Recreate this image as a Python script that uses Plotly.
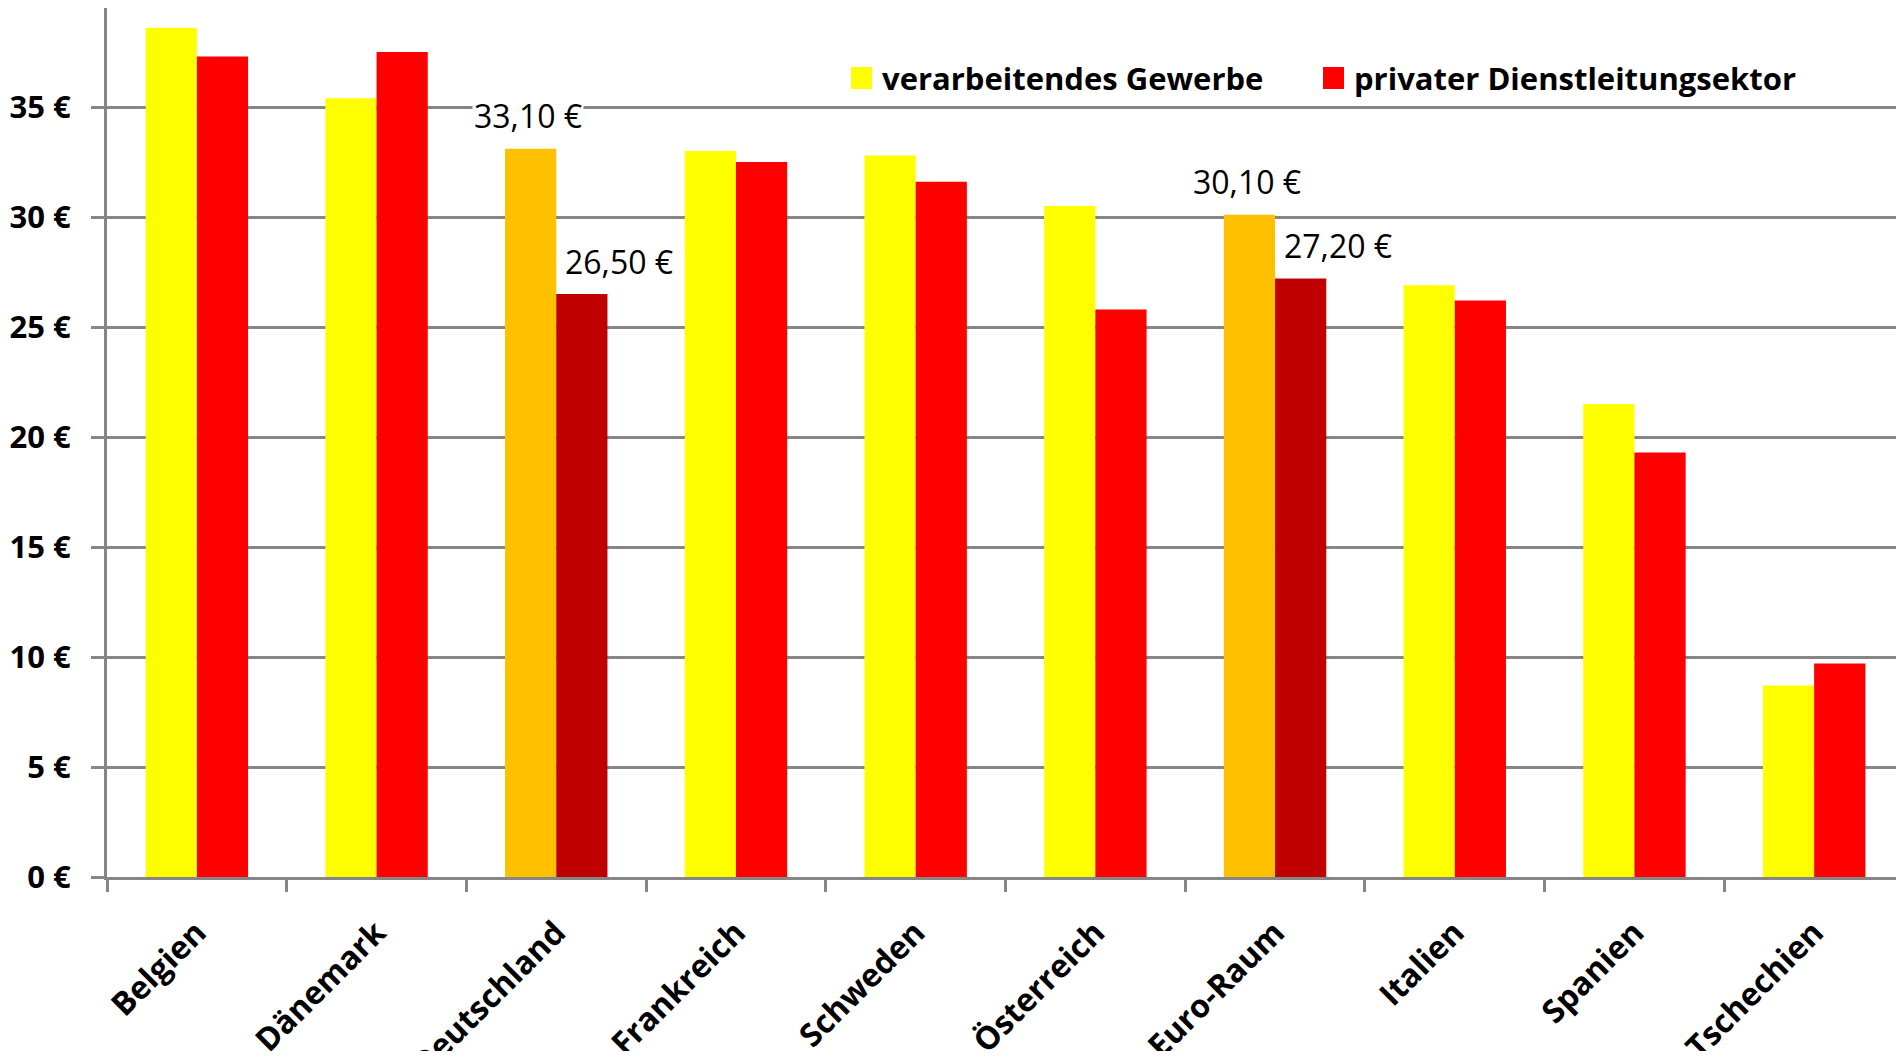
import plotly.graph_objects as go

# data
countries = ["Belgien", "Dänemark", "Deutschland", "Frankreich", "Schweden",
             "Österreich", "Euro-Raum", "Italien", "Spanien", "Tschechien"]
gewerbe = [38.6, 35.4, 33.1, 33.0, 32.8, 30.5, 30.1, 26.9, 21.5, 8.7]
dienst = [37.3, 37.5, 26.5, 32.5, 31.6, 25.8, 27.2, 26.2, 19.3, 9.7]
highlight = ["Deutschland", "Euro-Raum"]
series_names = ["verarbeitendes Gewerbe", "privater Dienstleitungsektor"]
y_ticks = [0, 5, 10, 15, 20, 25, 30, 35]
y_ticktext = ["0 €", "5 €", "10 €", "15 €", "20 €", "25 €", "30 €", "35 €"]

# the page body has an 8px margin, so the figure is sized to fit inside it
OFF = 8
W, H = 1904 - 2 * OFF, 1059 - 2 * OFF
L, T, B = 107 - OFF, 0, 1059 - 2 * OFF - (877 - OFF)
PW, PH = W - L, H - T - B
FONT = "Open Sans"
GRID = "#868686"
CAT_W = 179.7  # pixels per category in the reference


def px(x):
    # page pixel -> paper x
    return (x - OFF - L) / PW


def py(y):
    # page pixel -> paper y
    return (H - B - (y - OFF)) / PH


col_g = ["#FFC000" if c in highlight else "#FFFF00" for c in countries]
col_d = ["#C00000" if c in highlight else "#FF0000" for c in countries]

fig = go.Figure()
fig.add_trace(go.Bar(x=countries, y=gewerbe, name=series_names[0],
                     marker=dict(color=col_g, line=dict(width=0))))
fig.add_trace(go.Bar(x=countries, y=dienst, name=series_names[1],
                     marker=dict(color=col_d, line=dict(width=0))))


# value labels on the highlighted groups
def fmt(v):
    return f"{v:.2f}".replace(".", ",") + " €"


for c in highlight:
    i = countries.index(c)
    fig.add_annotation(x=c, y=gewerbe[i], text=fmt(gewerbe[i]), showarrow=False,
                       xshift=-28, yshift=33, bgcolor="white", borderpad=1,
                       font=dict(family=FONT, size=32, color="black"))
    fig.add_annotation(x=c, y=dienst[i], text=fmt(dienst[i]), showarrow=False,
                       xshift=63, yshift=33, bgcolor="white", borderpad=1,
                       font=dict(family=FONT, size=32, color="black"))

# legend drawn by hand (larger swatches than plotly's)
legend_x = [851, 1323]
for name, color, lx in zip(series_names, ["#FFFF00", "#FF0000"], legend_x):
    fig.add_shape(type="rect", xref="paper", yref="paper",
                  x0=px(lx), x1=px(lx + 21), y0=py(89), y1=py(67),
                  fillcolor=color, line=dict(width=0))
    fig.add_annotation(xref="paper", yref="paper", x=px(lx + 29), y=py(78),
                       xanchor="left", yanchor="middle", text=name, showarrow=False,
                       font=dict(family=FONT, size=31, color="black", weight="bold"))

fig.update_layout(
    width=W, height=H,
    margin=dict(l=L, r=0, t=T, b=B),
    paper_bgcolor="white", plot_bgcolor="white",
    barmode="group", bargap=0.43, bargroupgap=0,
    showlegend=False,
    font=dict(family=FONT, size=32, color="black"),
)
fig.update_xaxes(
    type="category", range=[-0.5, -0.5 + PW / CAT_W], automargin=False,
    showline=True, linecolor=GRID, linewidth=3,
    ticks="outside", tickson="boundaries", ticklen=12, tickwidth=3, tickcolor=GRID,
    tickangle=-45, ticklabelstandoff=21,
    tickfont=dict(family=FONT, size=32, color="black", weight="bold"),
    showgrid=False,
)
fig.update_yaxes(
    range=[0, 39.5], automargin=False,
    tickvals=y_ticks, ticktext=y_ticktext,
    showgrid=True, gridcolor=GRID, gridwidth=3, zeroline=False,
    showline=True, linecolor=GRID, linewidth=3,
    ticks="outside", ticklen=13, tickwidth=3, tickcolor=GRID,
    ticklabelstandoff=14,
    tickfont=dict(family=FONT, size=31, color="black", weight="bold"),
)

fig.write_html("out.html")
